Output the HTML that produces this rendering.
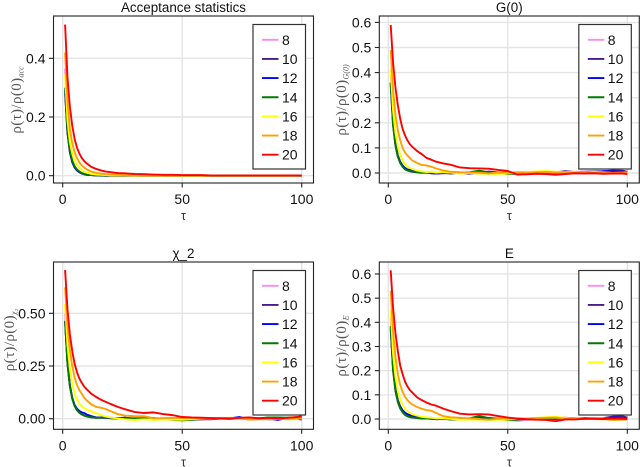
<!DOCTYPE html>
<html>
<head>
<meta charset="utf-8">
<title>Autocorrelation chart</title>
<style>
html,body{margin:0;padding:0;background:#fff;width:640px;height:467px;overflow:hidden}
svg{display:block;filter:blur(0.3px)}
text{font-family:"Liberation Sans",sans-serif;fill:#111}
</style>
</head>
<body>
<svg id="chart" xmlns="http://www.w3.org/2000/svg" width="640" height="467" viewBox="0 0 640 467"></svg>
<script>
const taus = [1,2,3,4,5,6,7,8,9,10,12,14,16,18,20,23,26,30,34,38,42,46,50,54,58,62,66,70,74,78,82,86,90,94,98,100];
const sizes = ['8','10','12','14','16','18','20'];
const xTicks = [0,50,100];

const acc8 = [.365,.16,.08,.045,.027,.017,.011,.007,.005,.003,.002,.001,.001,0,0,0,0,0,0,0,0,0,0,0,0,0,0,0,0,0,0,0,0,0,0,0];
const acc10 = [.28,.145,.08,.046,.028,.018,.012,.008,.005,.003,.002,.001,0,0,0,0,0,0,0,0,0,0,0,0,0,0,0,0,0,0,0,0,0,0,0,0];
const acc12 = [.29,.148,.082,.047,.029,.018,.012,.008,.005,.003,.002,.001,.001,0,0,0,0,0,0,0,0,0,0,0,0,0,0,0,0,0,0,0,0,0,0,0];
const acc14 = [.30,.152,.086,.051,.032,.021,.014,.009,.006,.004,.002,.001,.001,0,0,0,0,0,0,0,0,0,0,0,0,0,0,0,0,0,0,0,0,0,0,0];
const acc16 = [.345,.19,.115,.075,.05,.036,.026,.019,.014,.011,.006,.004,.003,.002,.001,.001,.001,0,0,0,0,0,0,0,0,0,0,0,0,0,0,0,0,0,0,0];
const acc18 = [.42,.25,.16,.11,.08,.06,.045,.035,.028,.022,.014,.010,.007,.005,.004,.003,.002,.002,.001,.001,.001,0,0,0,0,0,0,0,0,0,0,0,0,0,0,0];
const acc20 = [.515,.335,.235,.170,.125,.095,.075,.060,.050,.042,.030,.023,.018,.014,.012,.009,.008,.006,.005,.004,.003,.003,.002,.002,.002,.001,.001,.001,.001,.001,.001,.001,.001,.001,.001,.001];

const g8 = [.39,.2,.115,.065,.04,.025,.016,.01,.007,.005,.004,.002,.004,.001,-.001,-.002,.001,0,.001,.003,.006,.003,-.001,-.006,-.002,.001,.003,.004,.005,.002,.001,.003,.002,.002,.003,.001];
const g10 = [.35,.19,.11,.065,.04,.025,.015,.01,.007,.005,.003,.001,.002,0,-.002,.001,-.002,.001,-.003,.004,.002,0,-.001,.002,.003,.001,.003,.002,.007,.004,.005,.006,.007,.01,.009,.005];
const g12 = [.36,.2,.115,.07,.045,.03,.02,.014,.012,.01,.006,.003,.002,-.001,-.002,0,.001,.002,-.002,.001,.005,.002,.002,.001,.001,-.001,.002,0,.003,.002,.004,.003,.007,.006,.005,.003];
const g14 = [.36,.19,.11,.065,.04,.025,.015,.01,.008,.006,.004,.002,.001,.003,0,.002,-.001,.001,.003,.009,.003,.001,-.004,-.002,0,.002,.001,.002,.001,.003,.002,.005,.004,.001,.002,.001];
const g16 = [.415,.25,.16,.105,.07,.05,.035,.025,.02,.016,.01,.006,.004,.005,.002,.004,.002,-.002,0,-.002,-.003,-.003,-.002,.001,.004,.006,.007,.005,.003,.005,.002,.004,.002,0,.001,.002];
const g18 = [.49,.33,.23,.17,.13,.10,.082,.07,.06,.05,.04,.032,.03,.025,.018,.01,.005,.003,.002,.001,-.002,.002,.001,.003,.001,.003,.004,.002,.003,.002,.004,.001,.001,0,.001,0];
const g20 = [.59,.44,.34,.27,.215,.175,.15,.13,.115,.105,.088,.075,.06,.053,.045,.038,.033,.022,.019,.018,.017,.012,.008,-.006,-.005,-.003,-.004,-.007,-.004,-.001,-.002,-.001,-.003,-.002,-.002,-.004];

const chi8 = [.50,.27,.155,.095,.06,.04,.028,.02,.014,.01,.007,.005,.004,.006,.003,.002,.001,.002,.001,.004,-.003,-.002,-.005,-.004,-.003,0,.001,0,.003,.005,.003,.002,.004,.005,.004,.005];
const chi10 = [.46,.26,.155,.095,.06,.04,.029,.021,.015,.011,.006,.004,.006,.005,.002,0,.004,.002,.001,.002,-.004,-.003,-.006,-.005,-.002,-.003,.001,.002,.004,.002,.001,-.002,-.003,.002,.003,.002];
const chi12 = [.46,.265,.16,.10,.065,.047,.036,.03,.027,.02,.012,.006,.004,.005,.004,.003,.005,-.001,.001,.001,-.004,-.003,-.004,-.003,-.002,-.001,.001,.002,.008,-.004,.002,.002,-.006,.003,0,-.004];
const chi14 = [.465,.26,.155,.095,.06,.04,.028,.02,.015,.011,.007,.004,.005,.007,.004,.001,.002,.001,.003,.003,-.003,-.005,-.008,-.005,-.002,.002,.001,-.001,.003,.004,.002,.006,.006,.005,.007,.006];
const chi16 = [.544,.35,.235,.165,.12,.09,.072,.058,.05,.044,.035,.026,.017,.01,.006,.001,-.003,-.006,-.003,-.005,-.004,-.004,-.005,-.002,0,.002,.003,.005,.002,.001,-.002,-.001,.002,-.003,-.002,.002];
const chi18 = [.623,.44,.325,.25,.195,.16,.135,.118,.10,.087,.068,.056,.052,.046,.036,.022,.015,.012,.012,.002,.003,.004,.003,.003,.001,0,.004,.003,.001,-.004,-.003,-.002,-.001,.001,0,.002];
const chi20 = [.705,.52,.40,.32,.26,.22,.19,.17,.152,.14,.118,.103,.09,.08,.07,.056,.045,.032,.027,.03,.022,.017,.008,.006,.005,.003,.002,.001,.004,.006,.002,.004,.002,.004,.008,.012];

const e8 = [.42,.22,.125,.075,.045,.03,.02,.015,.012,.008,.006,.004,.004,.003,.001,-.001,.001,0,.002,.004,.005,.002,-.004,-.008,-.004,.001,.003,.004,.006,.002,.002,.003,.001,.004,.003,.002];
const e10 = [.37,.2,.115,.07,.044,.028,.017,.011,.008,.006,.004,.002,.003,.001,-.001,.001,-.002,-.001,-.002,.005,.002,0,-.002,.001,.002,.001,.003,.002,.004,.003,.002,.003,.004,.01,.011,.006];
const e12 = [.38,.21,.125,.078,.052,.036,.026,.02,.016,.012,.008,.005,.004,.002,.001,.002,.001,.002,-.001,.002,.004,.001,-.001,.001,.002,-.001,.002,0,.003,.002,.004,.003,.002,.006,.005,.002];
const e14 = [.385,.205,.12,.072,.044,.028,.018,.012,.009,.007,.005,.003,.004,.005,.001,.002,-.002,-.002,.003,.012,.004,.001,-.005,-.003,0,.002,.001,.002,.001,.002,.001,.003,.002,.002,.004,0];
const e16 = [.45,.27,.175,.115,.08,.058,.042,.032,.026,.02,.014,.009,.007,.005,.003,.003,.001,-.003,-.002,-.003,-.004,-.003,-.003,.002,.003,.005,.007,.009,.005,.002,.001,.003,.002,0,-.001,.001];
const e18 = [.53,.36,.255,.185,.14,.112,.092,.078,.068,.06,.05,.042,.037,.034,.025,.012,.007,.005,.003,0,-.003,.001,.002,.003,.002,.004,.005,.006,.002,.003,.001,0,-.001,-.004,-.003,-.002];
const e20 = [.615,.46,.355,.28,.22,.185,.155,.135,.12,.11,.09,.078,.068,.06,.055,.043,.033,.022,.019,.02,.019,.012,.006,.002,-.001,-.003,-.004,-.009,-.002,-.002,.001,.001,0,.002,.001,0];

const accTicks = [0,0.2,0.4];
const accTickLabels = ['0.0','0.2','0.4'];
const gTicks = [0,0.1,0.2,0.3,0.4,0.5,0.6];
const gTickLabels = ['0.0','0.1','0.2','0.3','0.4','0.5','0.6'];
const chiTicks = [0,0.25,0.5];
const chiTickLabels = ['0.00','0.25','0.50'];
const eTicks = [0,0.1,0.2,0.3,0.4,0.5,0.6];
const eTickLabels = ['0.0','0.1','0.2','0.3','0.4','0.5','0.6'];

const colors = ['#f78cf0','#4b1a8f','#0000ff','#007a00','#ffff00','#ffa000','#ff0000'];
const NS = 'http://www.w3.org/2000/svg';
const root = document.getElementById('chart');

function make(parent, tag, attrs, txt) {
  const el = document.createElementNS(NS, tag);
  for (const k in attrs) el.setAttribute(k, attrs[k]);
  if (txt !== undefined) el.textContent = txt;
  parent.appendChild(el);
  return el;
}

function drawPanel(p) {
  const g = make(root, 'g', {});
  
  
  const xOf = function (v) { return p.x0 + v * (p.x100 - p.x0) / 100; };
  const yOf = function (v) { return p.y0 + v * p.yScale; };

  make(g, 'rect', {x: p.left, y: p.top, width: p.right - p.left, height: p.bottom - p.top, fill: '#fff'});

  xTicks.forEach(function (t) {
    const line = make(g, 'line', {x1: xOf(t), x2: xOf(t), y1: p.top, y2: p.bottom, stroke: '#e4e4e4', 'stroke-width': 1.4});
    
    
    make(g, 'line', {x1: xOf(t), x2: xOf(t), y1: p.bottom, y2: p.bottom + 4.5, stroke: '#222', 'stroke-width': 1.1});
    const lab = make(g, 'text', {x: xOf(t), y: p.bottom + 21, 'text-anchor': 'middle', 'font-size': 14}, String(t));
    
    
  });
  p.ticks.forEach(function (t, i) {
    const line = make(g, 'line', {x1: p.left, x2: p.right, y1: yOf(t), y2: yOf(t), stroke: '#e4e4e4', 'stroke-width': 1.4});
    
    
    make(g, 'line', {x1: p.left - 4.5, x2: p.left, y1: yOf(t), y2: yOf(t), stroke: '#222', 'stroke-width': 1.1});
    const lab = make(g, 'text', {x: p.left - 8, y: yOf(t) + 5, 'text-anchor': 'end', 'font-size': 14}, p.tickLabels[i]);
    
    
  });

  p.series.forEach(function (vals, i) {
    const pts = vals.map(function (v, k) { return xOf(taus[k]).toFixed(2) + ',' + yOf(v).toFixed(2); }).join(' ');
    const line = make(g, 'polyline', {points: pts, fill: 'none', stroke: colors[i], 'stroke-width': 1.9, 'stroke-linejoin': 'round'});
    
    
  });

  const frame = make(g, 'rect', {x: p.left, y: p.top, width: p.right - p.left, height: p.bottom - p.top, fill: 'none', stroke: '#222', 'stroke-width': 1.1});
  
  

  const title = make(g, 'text', {x: (p.left + p.right) / 2, y: p.top - 4, 'text-anchor': 'middle', 'font-size': 13.4}, p.title);
  
  

  const xlab = make(g, 'text', {x: (p.left + p.right) / 2, y: p.bottom + 37, 'text-anchor': 'middle', 'font-size': 12.5, style: 'fill:#333'}, 'τ');
  
  

  const ylab = make(g, 'text', {transform: 'translate(' + p.ylabX + ',' + p.ylabY + ') rotate(-90)', 'text-anchor': 'middle', style: 'font-family:"Liberation Serif",serif;font-size:15px;letter-spacing:0.4px;fill:#555'});
  
  
  make(ylab, 'tspan', {}, 'ρ(τ)/ρ(0)');
  make(ylab, 'tspan', {dy: 2.5, style: 'font-size:8px;font-style:italic;letter-spacing:0'}, p.sub);

  const lx = p.right - 60.5, ly = p.top + 8.5;
  const leg = make(g, 'g', {});
  
  
  make(leg, 'rect', {x: lx, y: ly, width: 52.5, height: 144.5, fill: '#fff', stroke: '#333', 'stroke-width': 1.2});
  sizes.forEach(function (s, i) {
    const ey = ly + 15.3 + i * 19.15;
    const entry = make(leg, 'g', {});
    
    
    make(entry, 'line', {x1: lx + 9, x2: lx + 25.5, y1: ey, y2: ey, stroke: colors[i], 'stroke-width': 1.9});
    make(entry, 'text', {x: lx + 29, y: ey + 5, 'font-size': 14}, s);
  });
}

drawPanel({id: 'acceptance', title: 'Acceptance statistics', sub: 'acc', left: 53.5, right: 313.5, top: 16, bottom: 183, x0: 62.7, x100: 301.7, y0: 175.7, yScale: -293.5, ticks: accTicks, tickLabels: accTickLabels, ylabX: 21, ylabY: 100, series: [acc8, acc10, acc12, acc14, acc16, acc18, acc20]});
drawPanel({id: 'g0', title: 'G(0)', sub: 'G(0)', left: 379.3, right: 639.3, top: 16, bottom: 183, x0: 388.3, x100: 627.3, y0: 173, yScale: -251, ticks: gTicks, tickLabels: gTickLabels, ylabX: 346, ylabY: 100, series: [g8, g10, g12, g14, g16, g18, g20]});
drawPanel({id: 'chi2', title: 'χ_2', sub: 'χ₂', left: 53.5, right: 313.5, top: 262, bottom: 429.3, x0: 62.7, x100: 301.7, y0: 418.7, yScale: -210.8, ticks: chiTicks, tickLabels: chiTickLabels, ylabX: 14, ylabY: 340, series: [chi8, chi10, chi12, chi14, chi16, chi18, chi20]});
drawPanel({id: 'energy', title: 'E', sub: 'E', left: 379.3, right: 639.3, top: 262, bottom: 429.3, x0: 388.3, x100: 627.3, y0: 419, yScale: -241.7, ticks: eTicks, tickLabels: eTickLabels, ylabX: 346, ylabY: 346, series: [e8, e10, e12, e14, e16, e18, e20]});
</script>
</body>
</html>
